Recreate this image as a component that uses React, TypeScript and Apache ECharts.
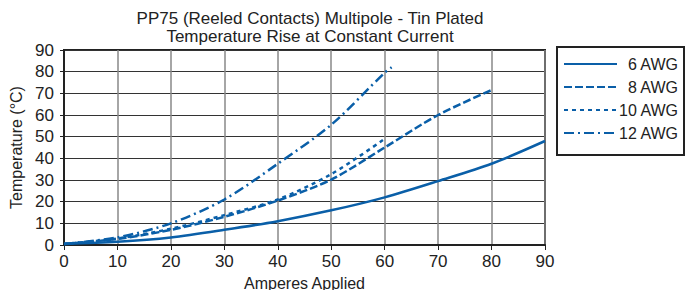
import React, { useEffect, useRef } from "react";
import * as echarts from "echarts";

const titleLines = ["PP75 (Reeled Contacts) Multipole - Tin Plated", "Temperature Rise at Constant Current"];
const xTitle = "Amperes Applied";
const yTitle = "Temperature (°C)";

const seriesNames = ["6 AWG", "8 AWG", "10 AWG", "12 AWG"];
const amps6 = [0, 10, 20, 30, 40, 50, 60, 70, 80, 90];
const temp6 = [0.5, 1.5, 3.5, 7, 11, 16, 22, 29.5, 37.5, 48];
const amps8 = [0, 10, 20, 30, 40, 50, 60, 70, 80];
const temp8 = [0.5, 2.8, 7, 13, 20.5, 30.2, 45, 60, 71.5];
const amps10 = [0, 10, 20, 30, 40, 50, 60];
const temp10 = [0.5, 3, 7.5, 13.8, 21, 32.7, 49];
const amps12 = [0, 10, 20, 30, 40, 50, 60, 61.3];
const temp12 = [0.5, 3.5, 10, 21, 37.5, 55.5, 79.5, 82];

const FONT = "'Liberation Sans', Arial, sans-serif";
const BLUE = "#0a5fa8";
const DARK = "#222222";

function pairs(xs: number[], ys: number[]) {
  return xs.map((x, i) => [x, ys[i]]);
}

export default function App() {
  const ref = useRef<HTMLDivElement>(null);
  useEffect(() => {
    if (!ref.current) return;
    const chart = echarts.init(ref.current, null, { renderer: "svg" });
    const dashes: any[] = ["solid", [8, 3], [4, 4], [10, 4, 2, 4]];
    const datasets = [pairs(amps6, temp6), pairs(amps8, temp8), pairs(amps10, temp10), pairs(amps12, temp12)];
    chart.setOption({
      animation: false,
      title: {
        text: titleLines.join("\n"),
        left: 305,
        textAlign: "center",
        top: 4,
        textStyle: { fontFamily: FONT, fontSize: 17, fontWeight: "normal", color: DARK, lineHeight: 18 },
      },
      legend: {
        orient: "vertical",
        left: 557,
        top: 47,
        padding: [9, 6, 14, 6],
        itemWidth: 53,
        itemHeight: 14,
        itemGap: 7,
        borderColor: DARK,
        borderWidth: 2,
        itemStyle: { opacity: 0 },
        formatter: (n: string) => `{a|${n}}`,
        textStyle: {
          fontFamily: FONT,
          fontSize: 16,
          color: DARK,
          rich: { a: { width: 56, align: "right", fontFamily: FONT, fontSize: 16, color: DARK } },
        },
        data: seriesNames,
      },
      grid: {
        left: 64,
        right: 144,
        top: 50,
        bottom: 45,
        show: true,
        borderColor: DARK,
        borderWidth: 2,
        outerBoundsMode: "none",
        containLabel: false,
      },
      xAxis: {
        type: "value",
        min: 0,
        max: 90,
        interval: 10,
        name: xTitle,
        nameLocation: "middle",
        nameGap: 30,
        nameTextStyle: { fontFamily: FONT, fontSize: 16, color: DARK },
        axisLine: { show: true, lineStyle: { color: DARK, width: 2 } },
        axisTick: { show: true, length: 5, lineStyle: { color: DARK } },
        axisLabel: { fontFamily: FONT, fontSize: 17, color: DARK, margin: 8 },
        splitLine: { show: true, lineStyle: { color: "#888888", width: 1.5 } },
      },
      yAxis: {
        type: "value",
        min: 0,
        max: 90,
        interval: 10,
        name: yTitle,
        nameLocation: "middle",
        nameGap: 39,
        nameTextStyle: { fontFamily: FONT, fontSize: 16, color: DARK },
        axisLine: { show: true, lineStyle: { color: DARK, width: 2 } },
        axisTick: { show: true, length: 4, lineStyle: { color: DARK } },
        axisLabel: { fontFamily: FONT, fontSize: 17, color: DARK, margin: 10, padding: [0, 0, 8, 0] },
        splitLine: { show: true, lineStyle: { color: "#333333", width: 1.2 } },
      },
      series: seriesNames.map((name, i) => ({
        name,
        type: "line",
        data: datasets[i],
        smooth: 0.3,
        symbol: "none",
        lineStyle: { color: BLUE, width: 2.5, type: dashes[i] },
        itemStyle: { color: BLUE },
      })),
    });
    return () => chart.dispose();
  }, []);
  return <div ref={ref} style={{ width: 689, height: 290, position: "absolute", left: 0, top: 0 }} />;
}
